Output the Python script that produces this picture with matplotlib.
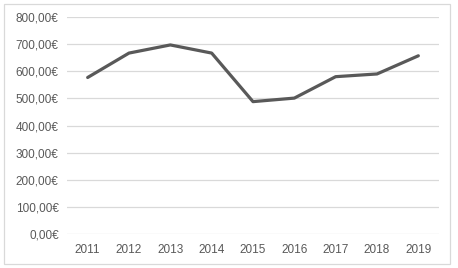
import matplotlib.pyplot as plt
from matplotlib.patches import Rectangle
from matplotlib.ticker import FuncFormatter

years = ['2011', '2012', '2013', '2014', '2015', '2016', '2017', '2018', '2019']
values = [577, 667, 697, 667, 488, 501, 580, 590, 657]

plt.rcParams['font.family'] = ['Liberation Sans', 'DejaVu Sans']

fig = plt.figure(figsize=(4.58, 2.68), dpi=100)
ax = fig.add_axes([67 / 458, 1 - 234 / 268, 372 / 458, (234 - 17) / 268])

x = range(len(years))
ax.plot(x, values, color='#595959', linewidth=2.3, solid_capstyle='round', solid_joinstyle='round')
ax.set_xlim(-0.5, len(years) - 0.5)
ax.set_ylim(0, 800)
ax.set_yticks(range(0, 801, 100))
ax.yaxis.set_major_formatter(FuncFormatter(lambda v, p: f'{v:.2f}'.replace('.', ',') + '€'))
ax.set_xticks(list(x))
ax.set_xticklabels(years)
ax.grid(axis='y', color='#d9d9d9', linewidth=0.9)
ax.set_axisbelow(True)
for s in ax.spines.values():
    s.set_visible(False)
ax.tick_params(length=0, labelsize=8.5, colors='#595959', pad=6)
ax.tick_params(axis='x', pad=7)

# outer chart border
fig.patches.append(Rectangle((3.5 / 458, 1 - 263.5 / 268), 446 / 458, 260 / 268,
                             transform=fig.transFigure, fill=False, edgecolor='#d9d9d9', linewidth=0.9))

fig.savefig('out.png', dpi=100)
